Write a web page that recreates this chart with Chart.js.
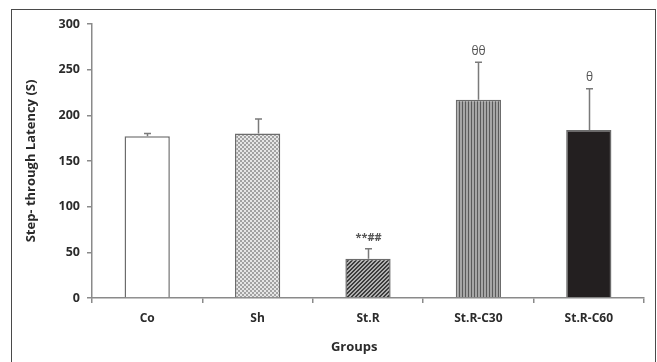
<!DOCTYPE html>
<html>
<head>
<meta charset="utf-8">
<script src="https://cdn.jsdelivr.net/npm/chart.js@4.4.1/dist/chart.umd.min.js"></script>
<style>
  html, body { margin: 0; padding: 0; background: #fff; }
  #wrap { width: 657px; height: 362px; position: relative; }
</style>
</head>
<body>
<div id="wrap"><canvas id="c" width="657" height="362"></canvas></div>
<script>
// Group names and mean step-through latency (s) with SEM
const groups = ['Co', 'Sh', 'St.R', 'St.R-C30', 'St.R-C60'];
const latency = [177, 180, 43, 217, 184];
const sem = [3, 16, 11, 41, 45];
const marks = ['', '', '**##', '\u03b8\u03b8', '\u03b8'];
const yTicks = [0, 50, 100, 150, 200, 250, 300];

// Fill patterns for each group
function makeTile(w, h, draw) {
  const c = document.createElement('canvas');
  c.width = w; c.height = h;
  const g = c.getContext('2d');
  draw(g);
  return document.getElementById('c').getContext('2d').createPattern(c, 'repeat');
}
const dotted = makeTile(4, 4, g => {
  g.fillStyle = '#e6e6e6'; g.fillRect(0, 0, 4, 4);
  g.fillStyle = '#a2a2a2'; g.fillRect(0, 0, 2, 2); g.fillRect(2, 2, 2, 2);
});
const hatched = makeTile(4, 4, g => {
  g.fillStyle = '#b0b0b0'; g.fillRect(0, 0, 4, 4);
  g.fillStyle = '#3c3c3c';
  for (let i = 0; i < 4; i++) { g.fillRect(i, 3 - i, 1, 1); g.fillRect((i + 1) % 4, 3 - i, 1, 1); }
});
const striped = makeTile(3, 3, g => {
  g.fillStyle = '#a6a6a6'; g.fillRect(0, 0, 3, 3);
  g.fillStyle = '#5a5a5a'; g.fillRect(0, 0, 1, 3);
});
const fills = ['#ffffff', dotted, hatched, striped, '#231f20'];

const axisGrey = '#8a8a8a';
const textDark = '#2b2b2b';

// Outer frame, error bars, significance marks and x-axis title
const extras = {
  id: 'extras',
  beforeDraw(chart) {
    const ctx = chart.ctx;
    ctx.save();
    ctx.fillStyle = '#fff';
    ctx.fillRect(0, 0, chart.width, chart.height);
    ctx.strokeStyle = '#4a4a4a';
    ctx.lineWidth = 1;
    ctx.strokeRect(11.5, 9.5, 644, 400);
    ctx.restore();
  },
  afterDatasetsDraw(chart) {
    const ctx = chart.ctx;
    const x = chart.scales.x, y = chart.scales.y;
    ctx.save();
    ctx.strokeStyle = '#7a7a7a';
    ctx.lineWidth = 1.5;
    latency.forEach((v, i) => {
      const cx = Math.round(x.getPixelForValue(i)) + 0.5;
      const top = y.getPixelForValue(v);
      const hi = y.getPixelForValue(v + sem[i]);
      ctx.beginPath();
      ctx.moveTo(cx, top); ctx.lineTo(cx, hi);
      ctx.moveTo(cx - 3.5, hi); ctx.lineTo(cx + 3.5, hi);
      ctx.stroke();
      if (marks[i]) {
        ctx.fillStyle = '#555';
        ctx.textAlign = 'center';
        ctx.textBaseline = 'bottom';
        ctx.font = (marks[i] === '**##' ? 'bold 11px' : '12px') + ' "Open Sans"';
        ctx.fillText(marks[i], cx, hi - 5);
      }
    });
    ctx.fillStyle = textDark;
    ctx.font = 'bold 13px "Open Sans"';
    ctx.textAlign = 'center';
    ctx.textBaseline = 'middle';
    ctx.fillText('Groups', x.left + (x.right - x.left) * 0.475, 347);
    ctx.restore();
  }
};

new Chart(document.getElementById('c'), {
  type: 'bar',
  data: {
    labels: groups,
    datasets: [{
      data: latency,
      backgroundColor: fills,
      borderColor: '#6c6c6c',
      borderWidth: 1.5,
      categoryPercentage: 1,
      barPercentage: 0.41
    }]
  },
  options: {
    responsive: false,
    animation: false,
    events: [],
    layout: { padding: { left: 0, right: 13, top: 24, bottom: 0 } },
    plugins: { legend: { display: false }, tooltip: { enabled: false } },
    scales: {
      x: {
        afterFit(s) { s.height = 64; },
        border: { color: axisGrey, width: 1.5 },
        grid: { display: true, drawOnChartArea: false, drawTicks: true, tickLength: 5, color: axisGrey, lineWidth: 1.5, offset: true },
        ticks: { color: textDark, font: { family: 'Open Sans', size: 12, weight: 'bold' }, padding: 8 }
      },
      y: {
        min: 0, max: 300,
        afterFit(s) { s.width = 92; },
        afterBuildTicks(s) { s.ticks = yTicks.map(v => ({ value: v })); },
        border: { color: axisGrey, width: 1.5 },
        grid: { display: true, drawOnChartArea: false, drawTicks: true, tickLength: 5, color: axisGrey, lineWidth: 1.5 },
        ticks: { color: textDark, font: { family: 'Open Sans', size: 12.5, weight: 'bold' }, padding: 7 },
        title: { display: true, text: 'Step- through Latency (S)', color: textDark, font: { family: 'Open Sans', size: 13, weight: 'bold' }, padding: { top: 23, bottom: 0 } }
      }
    }
  },
  plugins: [extras]
});
</script>
</body>
</html>
